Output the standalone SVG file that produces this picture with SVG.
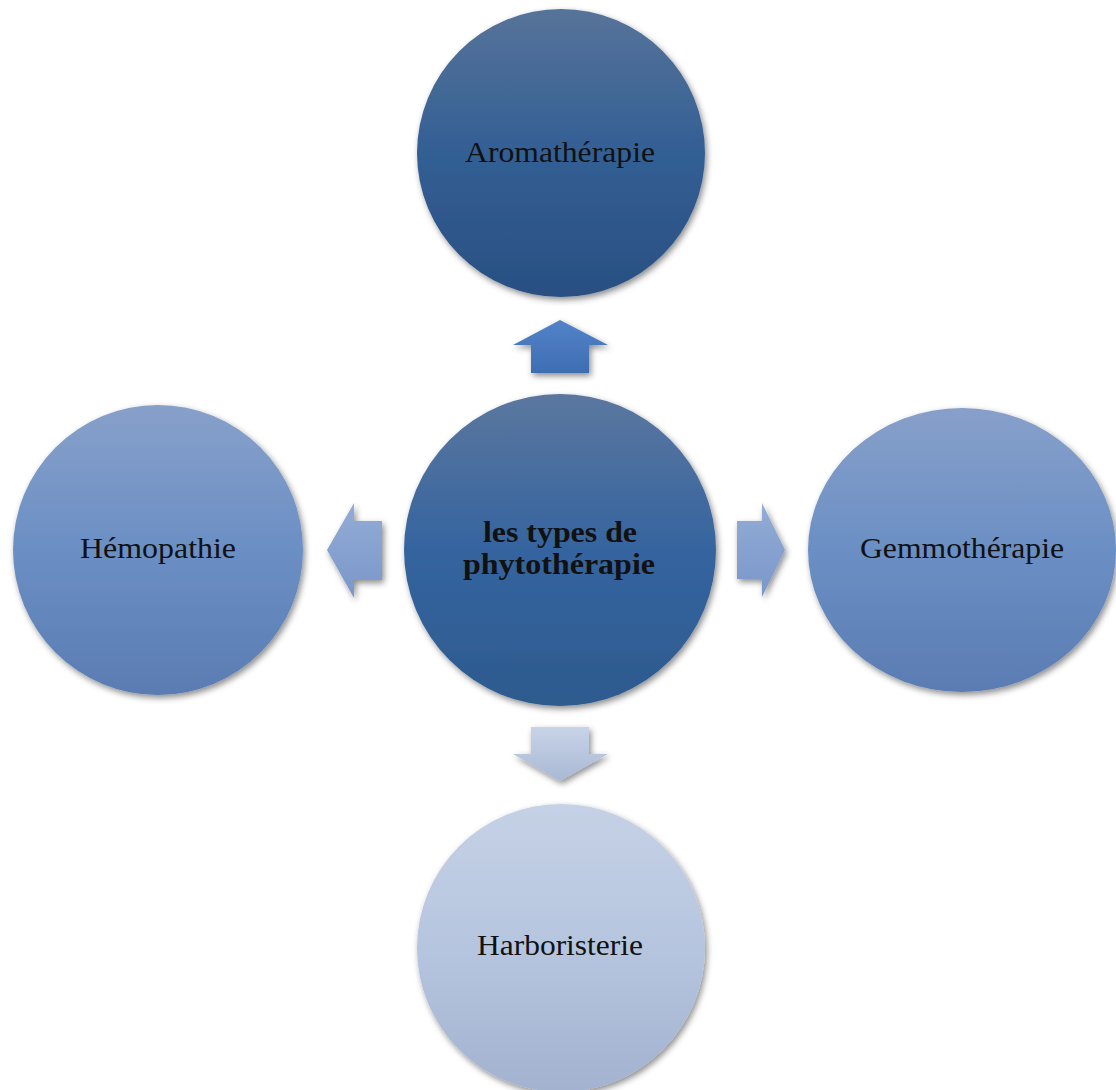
<svg xmlns="http://www.w3.org/2000/svg" width="1116" height="1090" viewBox="0 0 1116 1090">
<defs>
<linearGradient id="gDark" x1="0" y1="0" x2="0" y2="1">
<stop offset="0" stop-color="#577399"/><stop offset="0.5" stop-color="#335f94"/><stop offset="1" stop-color="#2a4f82"/>
</linearGradient>
<linearGradient id="gCenter" x1="0" y1="0" x2="0" y2="1">
<stop offset="0" stop-color="#5b779f"/><stop offset="0.5" stop-color="#35649f"/><stop offset="1" stop-color="#2d5a8e"/>
</linearGradient>
<linearGradient id="gMid" x1="0" y1="0" x2="0" y2="1">
<stop offset="0" stop-color="#87a0ca"/><stop offset="0.5" stop-color="#6b8fc4"/><stop offset="1" stop-color="#5a7cb2"/>
</linearGradient>
<linearGradient id="gLight" x1="0" y1="0" x2="0" y2="1">
<stop offset="0" stop-color="#c5d1e5"/><stop offset="0.5" stop-color="#b6c5df"/><stop offset="1" stop-color="#a2b2cf"/>
</linearGradient>
<linearGradient id="aUp" x1="0" y1="0" x2="0" y2="1">
<stop offset="0" stop-color="#5383c8"/><stop offset="1" stop-color="#3e6db2"/>
</linearGradient>
<linearGradient id="aSide" x1="0" y1="0" x2="0" y2="1">
<stop offset="0" stop-color="#93acd6"/><stop offset="1" stop-color="#7a97c9"/>
</linearGradient>
<linearGradient id="aDown" x1="0" y1="0" x2="0" y2="1">
<stop offset="0" stop-color="#c8d3e7"/><stop offset="1" stop-color="#a9b8d4"/>
</linearGradient>
<filter id="sh" x="-10%" y="-10%" width="125%" height="125%">
<feDropShadow dx="2" dy="3" stdDeviation="3" flood-color="#000" flood-opacity="0.45"/>
</filter>
</defs>
<style>
.lbl{font-family:"Liberation Serif","Times New Roman",serif;font-size:30px;fill:#111;text-anchor:middle}
.b{font-weight:bold}
</style>
<rect width="1116" height="1090" fill="#fff"/>
<g id="connectors" filter="url(#sh)">
<polygon points="560,320 608,345 589,345 589,373 531,373 531,345 513,345" fill="url(#aUp)"/>
<polygon points="327,550 354,503 354,521 382,521 382,580 354,580 354,598" fill="url(#aSide)"/>
<polygon points="785,550 762,503 762,521 737,521 737,579 762,579 762,597" fill="url(#aSide)"/>
<polygon points="560,781 608,754 589,754 589,727 531,727 531,754 513,754" fill="url(#aDown)"/>
</g>
<g id="node-center">
<circle cx="560" cy="550" r="156" fill="url(#gCenter)" filter="url(#sh)"/>
<text class="lbl b" x="560" y="542" textLength="154" lengthAdjust="spacingAndGlyphs">les types de</text>
<text class="lbl b" x="559" y="574" textLength="192" lengthAdjust="spacingAndGlyphs">phytothérapie</text>
</g>
<g id="node-aromatherapie">
<circle cx="561" cy="153" r="144" fill="url(#gDark)" filter="url(#sh)"/>
<text class="lbl" x="560" y="162" textLength="190" lengthAdjust="spacingAndGlyphs">Aromathérapie</text>
</g>
<g id="node-hemopathie">
<circle cx="158" cy="550" r="145" fill="url(#gMid)" filter="url(#sh)"/>
<text class="lbl" x="158" y="558" textLength="156" lengthAdjust="spacingAndGlyphs">Hémopathie</text>
</g>
<g id="node-gemmotherapie">
<ellipse cx="962" cy="550" rx="154" ry="142" fill="url(#gMid)" filter="url(#sh)"/>
<text class="lbl" x="962" y="558" textLength="204" lengthAdjust="spacingAndGlyphs">Gemmothérapie</text>
</g>
<g id="node-harboristerie">
<circle cx="561" cy="948" r="144" fill="url(#gLight)" filter="url(#sh)"/>
<text class="lbl" x="560" y="955" textLength="166" lengthAdjust="spacingAndGlyphs">Harboristerie</text>
</g>
</svg>
